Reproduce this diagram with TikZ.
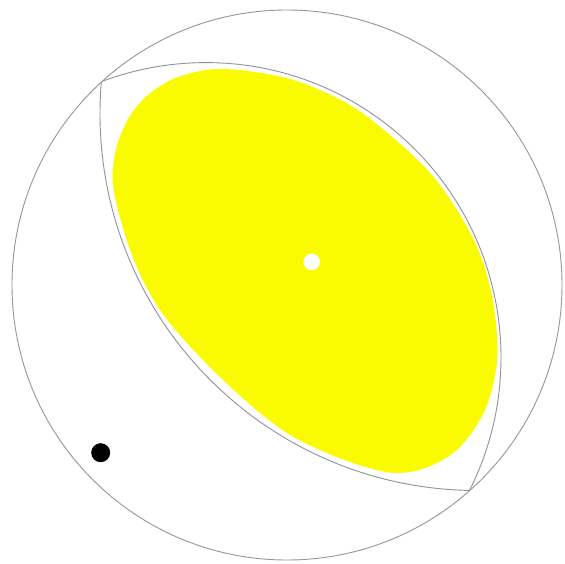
\documentclass[tikz,border=0pt]{standalone}
\usepackage{tikz}
\definecolor{netgray}{RGB}{150,150,156}
\definecolor{planegray}{RGB}{145,146,160}
\definecolor{regionyellow}{RGB}{250,250,0}

\begin{document}
\begin{tikzpicture}[
    x=0.5mm, y=-0.5mm,
    net/.style={draw=netgray, line width=1.3pt},
    plane/.style={draw=planegray, line width=1.3pt},
    region/.style={fill=regionyellow},
    pole/.style={fill=black},
    centre/.style={fill=white}
]
\useasboundingbox (0,0) rectangle (565,564);
\coordinate (O) at (287,285);
\coordinate (C1) at (206,357.6);
\coordinate (C2) at (477,113.5);

% confidence region
\fill[region] plot[smooth cycle, tension=0.55] coordinates {
  (223,69) (290,79) (350,105) (398,142) (431,174)
  (457,210) (478,249) (491,291) (497,335) (496,370)
  (485,410) (462,445) (437,463) (410,472) (386,472) (353,463)
  (320,450) (287,433) (253,407) (220,377) (187,343) (160,310)
  (138,270) (123,228) (114,192) (113,168) (118,142)
  (130,116) (148,95) (178,77)};

% the two planes, cut by the primitive
\begin{scope}
  \clip (O) circle[radius=275];
  \draw[plane] (C1) circle[radius=295];
  \draw[plane] (C2) circle[radius=377];
\end{scope}

% primitive circle
\draw[net] (O) circle[radius=275];

\fill[centre] (311.7,261.9) circle[radius=8.3];
\fill[pole] (100.7,452.7) circle[radius=9.5];
\end{tikzpicture}
\end{document}
